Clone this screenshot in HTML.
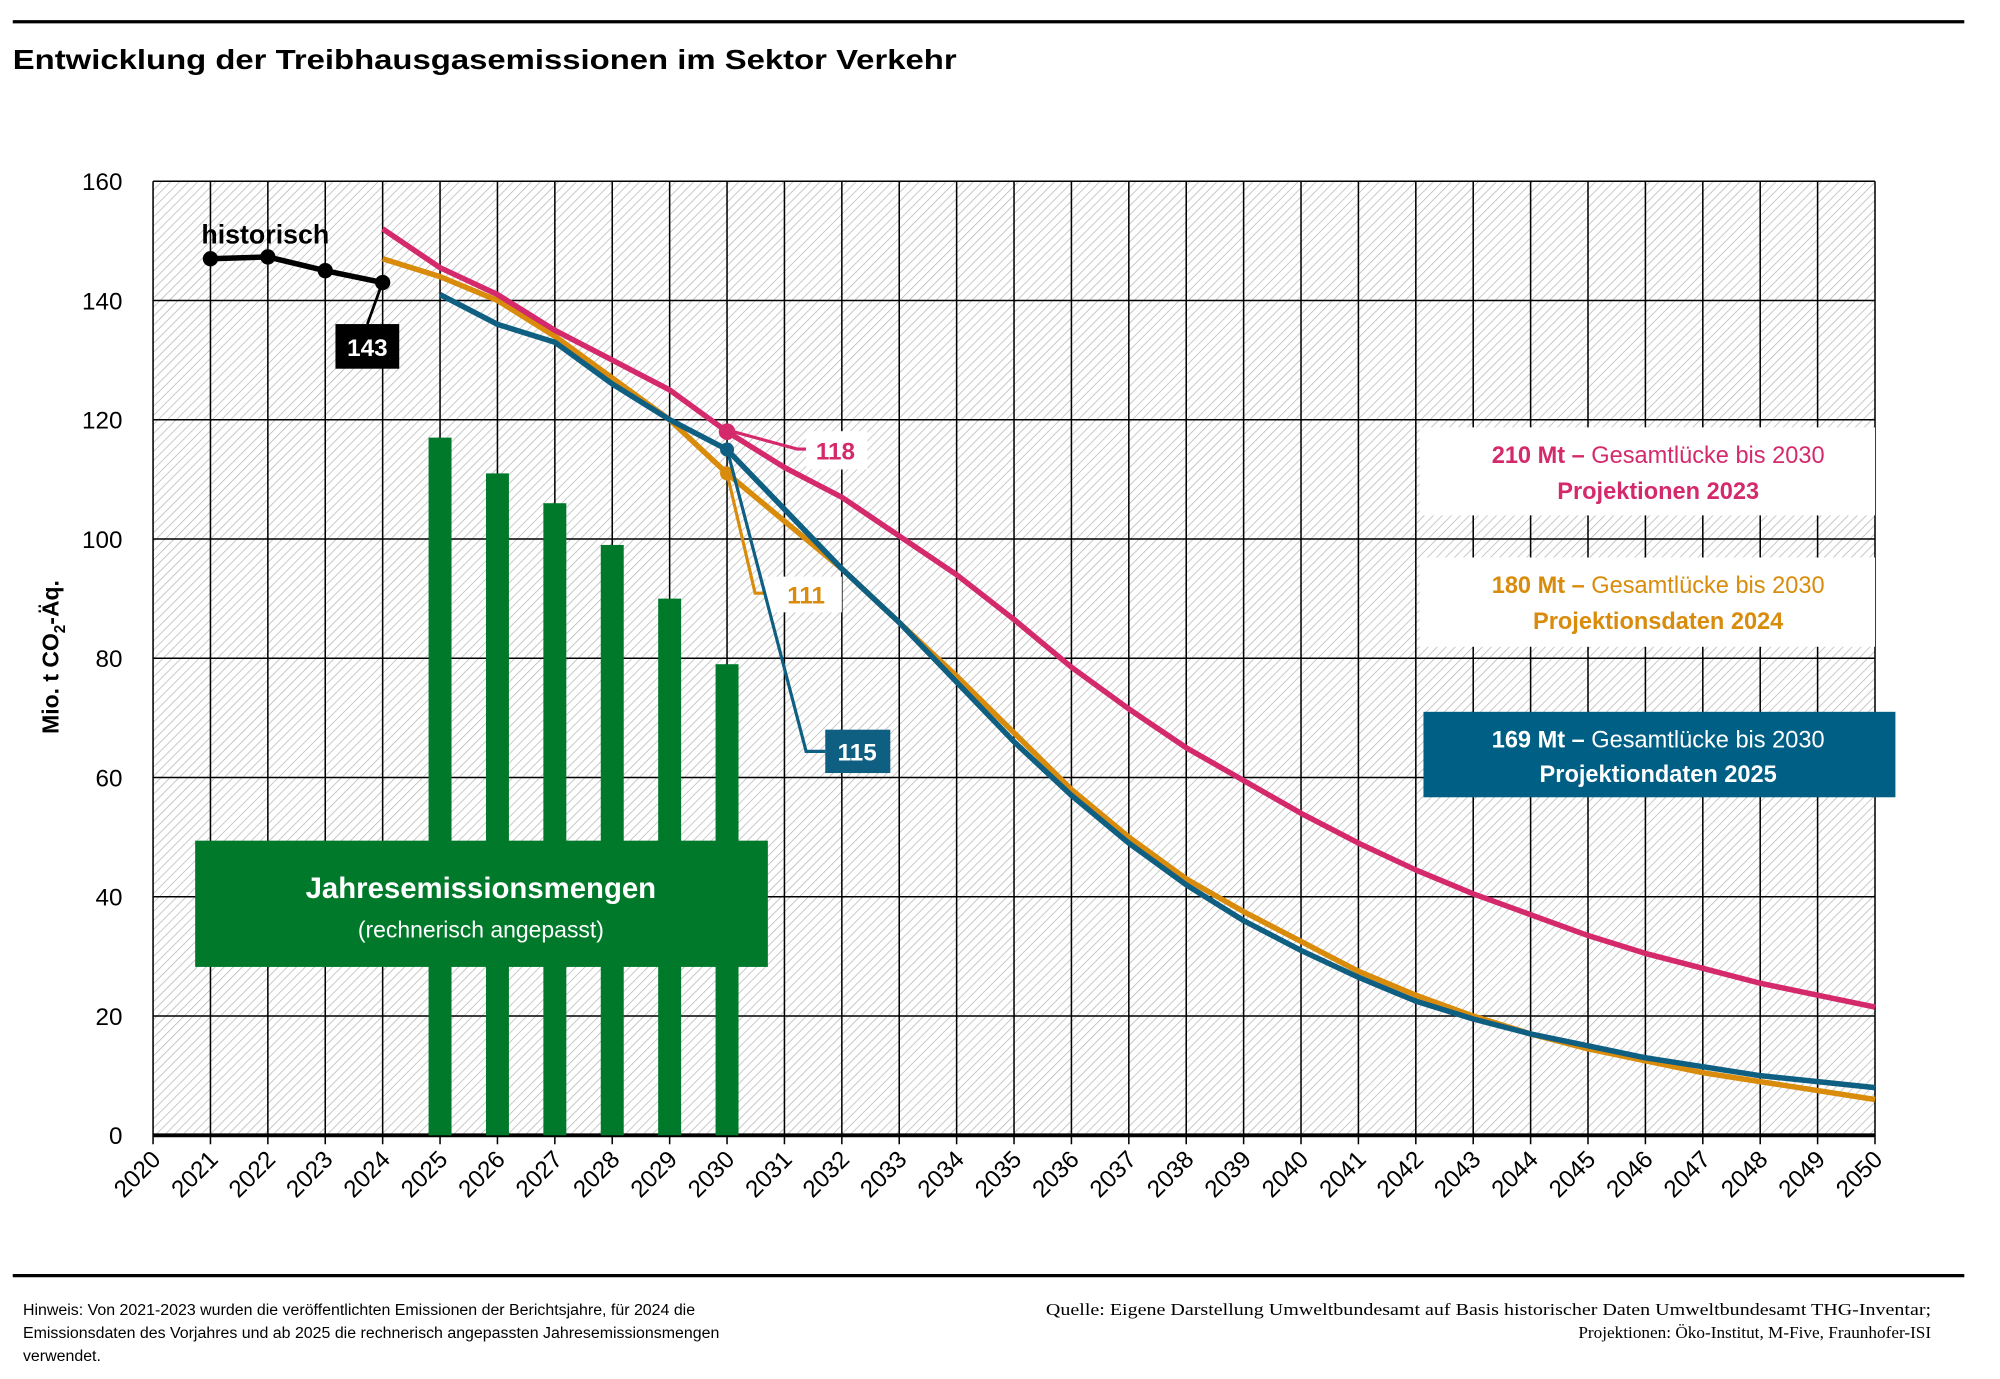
<!DOCTYPE html>
<html><head><meta charset="utf-8"><style>
html,body{margin:0;padding:0;background:#fff}
svg{display:block}
text{font-family:"Liberation Sans",sans-serif}
</style></head><body>
<svg id="s" width="2000" height="1379" viewBox="0 0 1568 1081" xmlns="http://www.w3.org/2000/svg">
<defs>
<pattern id="h" width="5" height="5" patternUnits="userSpaceOnUse" patternTransform="rotate(45)">
<rect width="5" height="5" fill="#fff"/><line x1="0" y1="0" x2="0" y2="5" stroke="#b8b8b8" stroke-width="1.2"/>
</pattern>
</defs>
<line x1="10" y1="17" x2="1540" y2="17" stroke="#000" stroke-width="2.5"/>
<text x="10" y="54" font-size="22" font-weight="bold" textLength="740" lengthAdjust="spacingAndGlyphs">Entwicklung der Treibhausgasemissionen im Sektor Verkehr</text>
<rect x="120" y="142" width="1350" height="748" fill="url(#h)"/>
<g id="grid"></g>
<g id="bars"></g>
<g id="lines"></g>
<g id="labels"></g>
<line x1="10" y1="1000" x2="1540" y2="1000" stroke="#000" stroke-width="2.5"/>
<text font-size="12.5" fill="#000"><tspan x="18" y="1031">Hinweis: Von 2021-2023 wurden die veröffentlichten Emissionen der Berichtsjahre, für 2024 die</tspan><tspan x="18" y="1049">Emissionsdaten des Vorjahres und ab 2025 die rechnerisch angepassten Jahresemissionsmengen</tspan><tspan x="18" y="1067">verwendet.</tspan></text>
<text font-size="13.5" text-anchor="end" style="font-family:'Liberation Serif',serif"><tspan x="1514" y="1031" textLength="694" lengthAdjust="spacingAndGlyphs">Quelle: Eigene Darstellung Umweltbundesamt auf Basis historischer Daten Umweltbundesamt THG-Inventar;</tspan><tspan x="1514" y="1049">Projektionen: Öko-Institut, M-Five, Fraunhofer-ISI</tspan></text>
<text transform="translate(46,515) rotate(-90)" font-size="18" font-weight="bold" text-anchor="middle">Mio. t CO<tspan font-size="12" dy="5">2</tspan><tspan dy="-5">-Äq.</tspan></text>
</svg>
<script>
var NS="http://www.w3.org/2000/svg";
function X(y){return 120+(y-2020)*45}
function Y(v){return 890-v*4.675}
function el(p,t,a,txt){var e=document.createElementNS(NS,t);for(var k in a)e.setAttribute(k,a[k]);if(txt!=null)e.textContent=txt;document.getElementById(p).appendChild(e);return e}
for(var y=2020;y<=2050;y++){el("grid","line",{x1:X(y),y1:142,x2:X(y),y2:897,stroke:"#000","stroke-width":1.2});
el("grid","text",{x:0,y:0,"font-size":19,"text-anchor":"end",transform:"translate("+(X(y)+7)+",910) rotate(-45)"},String(y));}
for(var v=0;v<=160;v+=20){el("grid","line",{x1:120,y1:Y(v),x2:1470,y2:Y(v),stroke:"#000","stroke-width":v==0?3:1.2});
el("grid","text",{x:96,y:Y(v)+7,"font-size":19,"text-anchor":"end"},String(v));}
var bars={2025:117,2026:111,2027:106,2028:99,2029:90,2030:79};
for(var b in bars)el("bars","rect",{x:X(+b)-9,y:Y(bars[b]),width:18,height:890-Y(bars[b]),fill:"#007a2a"});
el("bars","rect",{x:153,y:659,width:449,height:99,fill:"#007a2a"});
el("bars","text",{x:377,y:704,"font-size":23,"font-weight":"bold",fill:"#fff","text-anchor":"middle"},"Jahresemissionsmengen");
el("bars","text",{x:377,y:735,"font-size":18,fill:"#fff","text-anchor":"middle"},"(rechnerisch angepasst)");
function pl(start,vals,col,w){var p=[];for(var i=0;i<vals.length;i++)p.push(X(start+i)+","+Y(vals[i]));
el("lines","polyline",{points:p.join(" "),fill:"none",stroke:col,"stroke-width":w,"stroke-linejoin":"round"});}
var orange="#d98c0c",pink="#d42a6c",blue="#0f5f82";
pl(2024,[147,144,140,134,127,120,111,103,95,86,77,67.5,58,50,43,37.5,32.5,27.5,23.5,20,17,14.5,12.5,10.5,9,7.5,6],orange,4.3);
pl(2025,[141,136,133,126,120,115,105,95,86,76,66,57,49,42,36,31,26.5,22.5,19.5,17,15,13,11.5,10,9,8],blue,4.3);
pl(2024,[152,145.5,141,135,130,125,118,112,107,100.5,94,86.5,78.5,71.5,65,59.5,54,49,44.5,40.5,37,33.5,30.5,28,25.5,23.5,21.5],pink,4.3);
pl(2021,[147,147.3,145,143],"#000",4.3);
[[2021,147],[2022,147.3],[2023,145],[2024,143]].forEach(function(d){el("lines","circle",{cx:X(d[0]),cy:Y(d[1]),r:6,fill:"#000"})});
el("lines","circle",{cx:X(2030),cy:Y(118),r:6.5,fill:pink});
el("lines","circle",{cx:X(2030),cy:Y(115),r:5.5,fill:blue});
el("lines","circle",{cx:X(2030),cy:Y(111),r:5.5,fill:orange});
el("labels","text",{x:208,y:191,"font-size":21,"font-weight":"bold","text-anchor":"middle"},"historisch");
el("labels","polyline",{points:"300,221 288,254",stroke:"#000","stroke-width":2.2,fill:"none"});
el("labels","rect",{x:263,y:254,width:50,height:35,fill:"#000"});
el("labels","text",{x:288,y:279,"font-size":19,"font-weight":"bold",fill:"#fff","text-anchor":"middle"},"143");
el("labels","polyline",{points:"570,337 625,352 632,352",stroke:pink,"stroke-width":2.5,fill:"none"});
el("labels","rect",{x:632,y:338,width:48,height:30,fill:"#fff"});
el("labels","text",{x:655,y:360,"font-size":19,"font-weight":"bold",fill:pink,"text-anchor":"middle"},"118");
el("labels","polyline",{points:"570,371 592,465 602,465",stroke:orange,"stroke-width":2.5,fill:"none"});
el("labels","rect",{x:600,y:452,width:60,height:28,fill:"#fff"});
el("labels","text",{x:632,y:473,"font-size":19,"font-weight":"bold",fill:orange,"text-anchor":"middle"},"111");
el("labels","polyline",{points:"570,352 632,589 647,589",stroke:blue,"stroke-width":2.5,fill:"none"});
el("labels","rect",{x:647,y:572,width:51,height:34,fill:blue});
el("labels","text",{x:672,y:596,"font-size":19,"font-weight":"bold",fill:"#fff","text-anchor":"middle"},"115");
function leg(y0,h,bg,col,a,b){el("labels","rect",{x:1113,y:y0,width:357,height:h,fill:bg});
var t=el("labels","text",{x:1300,y:y0+28,"font-size":18.5,fill:col,"text-anchor":"middle"});
t.innerHTML='<tspan font-weight="bold">'+a+'</tspan> Gesamtlücke bis 2030';
el("labels","text",{x:1300,y:y0+56,"font-size":18.5,fill:col,"font-weight":"bold","text-anchor":"middle"},b);}
leg(335,69,"#fff",pink,"210 Mt –","Projektionen 2023");
leg(437,70,"#fff",orange,"180 Mt –","Projektionsdaten 2024");
el("labels","rect",{x:1116,y:558,width:370,height:67,fill:"#005f85"});
var t=el("labels","text",{x:1300,y:586,"font-size":18.5,fill:"#fff","text-anchor":"middle"});
t.innerHTML='<tspan font-weight="bold">169 Mt –</tspan> Gesamtlücke bis 2030';
el("labels","text",{x:1300,y:613,"font-size":18.5,fill:"#fff","font-weight":"bold","text-anchor":"middle"},"Projektiondaten 2025");
</script>
</body></html>
